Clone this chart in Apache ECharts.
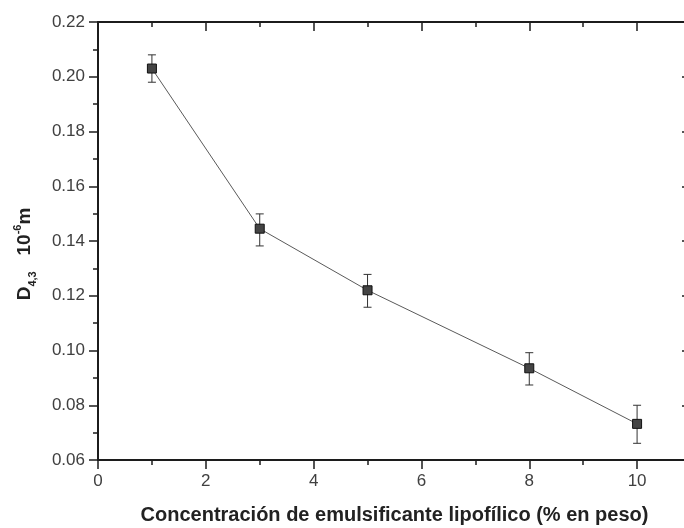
<!DOCTYPE html>
<html>
<head>
<meta charset="utf-8">
<script src="https://cdn.jsdelivr.net/npm/echarts@6/dist/echarts.min.js"></script>
<style>
  html, body { margin: 0; padding: 0; background: #fff; }
  #chart { width: 684px; height: 528px; }
</style>
</head>
<body>
<div id="chart"></div>
<script>
// Emulsifier concentration (% w/w) and mean droplet size D4,3 (10^-6 m)
const concentration = [1, 3, 5, 8, 10];
const d43 = [0.203, 0.1445, 0.122, 0.0935, 0.0732];
const errLow = [0.198, 0.1382, 0.1158, 0.0874, 0.0661];
const errHigh = [0.208, 0.1499, 0.1278, 0.0992, 0.0800];

const xTitle = 'Concentración de emulsificante lipofílico (% en peso)';

const points = concentration.map((c, i) => [c, d43[i]]);
const bars = concentration.map((c, i) => [c, errLow[i], errHigh[i]]);

const FONT = 'Liberation Sans, Arial, sans-serif';
const AXIS_COLOR = '#1c1c1c';

function baseX(extra) {
  return Object.assign({
    type: 'value', min: 0, max: 11, gridIndex: 0,
    splitLine: { show: false },
    axisLine: { show: true, onZero: false, lineStyle: { color: AXIS_COLOR, width: 2 } },
    axisLabel: { show: false }
  }, extra);
}

const chart = echarts.init(document.getElementById('chart'), null, { renderer: 'canvas' });

chart.setOption({
  animation: false,
  backgroundColor: '#ffffff',
  grid: { left: 98, top: 22, width: 593, height: 438, outerBoundsMode: 'none', containLabel: false },
  xAxis: [
    baseX({
      position: 'bottom', interval: 2,
      axisTick: { show: true, inside: false, length: 9, lineStyle: { color: AXIS_COLOR, width: 1.5 } },
      axisLabel: {
        show: true, margin: 13, color: '#404040', fontFamily: FONT, fontSize: 17,
        formatter: v => (v % 2 === 0 ? String(v) : '')
      },
      name: xTitle, nameLocation: 'middle', nameGap: 45,
      nameTextStyle: { fontFamily: FONT, fontWeight: 'bold', fontSize: 20, color: '#222' }
    }),
    baseX({
      position: 'bottom', interval: 1,
      axisLine: { show: false },
      axisTick: { show: true, inside: false, length: 5, lineStyle: { color: AXIS_COLOR, width: 1.5 } }
    }),
    baseX({
      position: 'top', interval: 2,
      axisTick: { show: true, inside: true, length: 9, lineStyle: { color: AXIS_COLOR, width: 1.5 } }
    }),
    baseX({
      position: 'top', interval: 1,
      axisLine: { show: false },
      axisTick: { show: true, inside: true, length: 5, lineStyle: { color: AXIS_COLOR, width: 1.5 } }
    })
  ],
  yAxis: [
    {
      type: 'value', position: 'left', min: 0.06, max: 0.22, interval: 0.02,
      splitLine: { show: false },
      axisLine: { show: true, onZero: false, lineStyle: { color: AXIS_COLOR, width: 2 } },
      axisTick: { show: true, inside: false, length: 9, lineStyle: { color: AXIS_COLOR, width: 1.5 } },
      minorTick: { show: true, splitNumber: 2, length: 5, lineStyle: { color: AXIS_COLOR, width: 1.5 } },
      axisLabel: {
        margin: 13, color: '#404040', fontFamily: FONT, fontSize: 17,
        formatter: v => v.toFixed(2)
      }
    },
    {
      type: 'value', position: 'right', min: 0.06, max: 0.22, interval: 0.02,
      splitLine: { show: false },
      axisLine: { show: true, onZero: false, lineStyle: { color: AXIS_COLOR, width: 2 } },
      axisTick: { show: true, inside: true, length: 9, lineStyle: { color: AXIS_COLOR, width: 1.5 } },
      axisLabel: { show: false }
    }
  ],
  graphic: [
    {
      type: 'text', x: 25, y: 254, rotation: Math.PI / 2,
      style: {
        text: '{m|D}{s|4,3}{m|   10}{p|-6}{m|m}',
        align: 'center', verticalAlign: 'middle',
        fill: '#222',
        rich: {
          m: { fontFamily: FONT, fontWeight: 'bold', fontSize: 19, lineHeight: 26, fill: '#222', verticalAlign: 'middle' },
          s: { fontFamily: FONT, fontWeight: 'bold', fontSize: 11, lineHeight: 10, fill: '#222', verticalAlign: 'bottom' },
          p: { fontFamily: FONT, fontWeight: 'bold', fontSize: 11, lineHeight: 10, fill: '#222', verticalAlign: 'top' }
        }
      }
    }
  ],
  series: [
    {
      type: 'line',
      xAxisIndex: 0, yAxisIndex: 0,
      data: points,
      symbol: 'rect', symbolSize: 9,
      lineStyle: { color: '#5a5a5a', width: 1 },
      itemStyle: { color: '#444', borderColor: '#111', borderWidth: 1 },
      z: 3
    },
    {
      type: 'custom',
      xAxisIndex: 0, yAxisIndex: 0,
      data: bars,
      renderItem: function (params, api) {
        const x = api.value(0);
        const lo = api.coord([x, api.value(1)]);
        const hi = api.coord([x, api.value(2)]);
        const cap = 4;
        const style = { stroke: '#333', lineWidth: 1 };
        return {
          type: 'group',
          children: [
            { type: 'line', shape: { x1: lo[0], y1: lo[1], x2: hi[0], y2: hi[1] }, style },
            { type: 'line', shape: { x1: hi[0] - cap, y1: hi[1], x2: hi[0] + cap, y2: hi[1] }, style },
            { type: 'line', shape: { x1: lo[0] - cap, y1: lo[1], x2: lo[0] + cap, y2: lo[1] }, style }
          ]
        };
      },
      z: 2
    }
  ]
});
</script>
</body>
</html>
